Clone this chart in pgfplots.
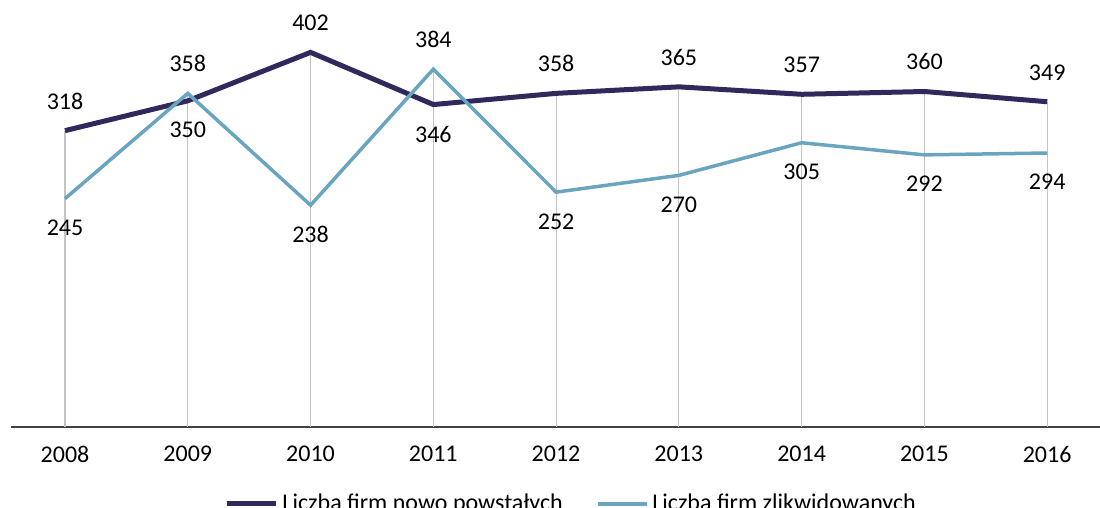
\documentclass[border=0pt]{standalone}
\usepackage{fontspec}
\setmainfont{Carlito}
\usepackage{pgfplots}
\pgfplotsset{compat=1.18}
\definecolor{newFirms}{HTML}{2F295C}
\definecolor{closedFirms}{HTML}{6AA5C0}
\definecolor{dropGray}{HTML}{C4C4C4}
\definecolor{axisGray}{HTML}{404040}
\pgfplotsset{/pgf/number format/assume math mode=true}

\begin{document}
\begin{tikzpicture}
% page = 1100x508 px at 0.5pt per px; y=0 is the x axis line
\path[use as bounding box] (0,-40.5pt) rectangle (550pt,213.5pt);
\clip (0,-40.5pt) rectangle (550pt,213.5pt);
\begin{axis}[
  at={(5.25pt,0pt)}, anchor=south west,
  scale only axis, width=544.75pt, height=213.5pt,
  xmin=2007.556, xmax=2016.43, ymin=0, ymax=458.2,
  clip=false,
  axis x line*=bottom, axis y line=none,
  x axis line style={draw=axisGray, line width=0.7pt, -},
  xtick={2008,...,2016}, major tick length=0pt,
  xticklabel style={font=\fontsize{12}{14}\selectfont, inner sep=0pt, anchor=north, yshift=-9.5pt},
  x tick label style={/pgf/number format/1000 sep={}},
  legend columns=2,
  legend style={at={(0.196,-0.18)}, anchor=west, draw=none, fill=none, inner sep=0pt,
    font=\fontsize{12}{14}\selectfont,
    /tikz/every even column/.append style={column sep=14.5pt}},
  legend cell align=left,
  legend image code/.code={\draw[#1] (0pt,0pt) -- (24.5pt,0pt);},
]
% drop lines from the higher value of each year
\addplot[ycomb, dropGray, line width=0.6pt, forget plot] coordinates {
(2008,318)(2009,358)(2010,402)(2011,384)(2012,358)(2013,365)(2014,357)(2015,360)(2016,349)};

\addplot[newFirms, line width=2.5pt] coordinates {
(2008,318)(2009,350)(2010,402)(2011,346)(2012,358)(2013,365)(2014,357)(2015,360)(2016,349)};
\addlegendentry{Liczba firm nowo powstałych}
\addplot[closedFirms, line width=1.75pt] coordinates {
(2008,245)(2009,358)(2010,238)(2011,384)(2012,252)(2013,270)(2014,305)(2015,292)(2016,294)};
\addlegendentry{Liczba firm zlikwidowanych}

% value labels: higher value above, lower value below
\addplot[draw=none, forget plot, nodes near coords,
  nodes near coords style={font=\fontsize{12}{14}\selectfont, inner sep=0pt, anchor=south, yshift=10.5pt}]
  coordinates {(2008,318)(2009,358)(2010,402)(2011,384)(2012,358)(2013,365)(2014,357)(2015,360)(2016,349)};
\addplot[draw=none, forget plot, nodes near coords,
  nodes near coords style={font=\fontsize{12}{14}\selectfont, inner sep=0pt, anchor=north, yshift=-10.5pt}]
  coordinates {(2008,245)(2009,350)(2010,238)(2011,346)(2012,252)(2013,270)(2014,305)(2015,292)(2016,294)};
\end{axis}
\end{tikzpicture}
\end{document}
